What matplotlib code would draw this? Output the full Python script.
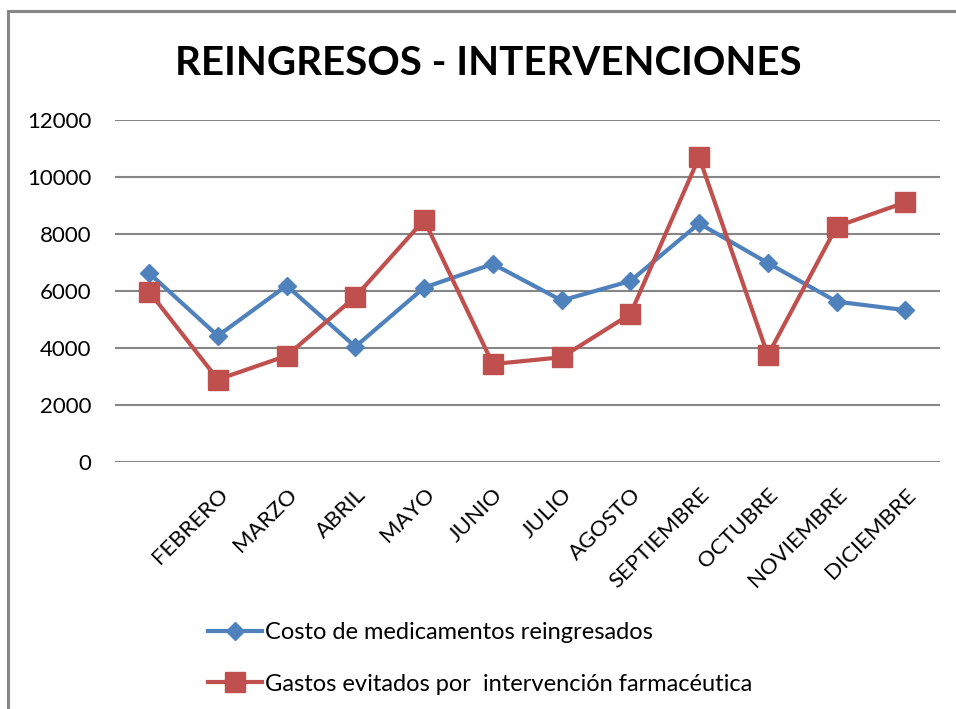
import matplotlib.pyplot as plt
from matplotlib.patches import Rectangle

months = ['', 'FEBRERO', 'MARZO', 'ABRIL', 'MAYO', 'JUNIO', 'JULIO',
          'AGOSTO', 'SEPTIEMBRE', 'OCTUBRE', 'NOVIEMBRE', 'DICIEMBRE']
costo = [6630, 4430, 6190, 4050, 6120, 6950, 5670, 6350, 8370, 6980, 5630, 5330]
gastos = [5980, 2900, 3730, 5800, 8490, 3440, 3680, 5190, 10690, 3750, 8260, 9110]
yticks = [0, 2000, 4000, 6000, 8000, 10000, 12000]

BLUE = '#4F81BD'
RED = '#C0504D'
GRID = '#868686'

plt.rcParams['font.family'] = ['Lato', 'DejaVu Sans']

fig = plt.figure(figsize=(9.56, 7.09), dpi=100)
# chart border (only top/left visible in the original crop)
fig.patches.append(Rectangle((8 / 956, -0.1), 1.2, 1 - 11 / 709 + 0.1,
                             transform=fig.transFigure, fill=False,
                             edgecolor=GRID, linewidth=2.2))

ax = fig.add_axes([0.120, 0.348, 0.863, 0.483])
x = list(range(len(months)))
ax.plot(x, costo, color=BLUE, linewidth=3, marker='D', markersize=9.5,
        markeredgecolor=BLUE, label='Costo de medicamentos reingresados')
ax.plot(x, gastos, color=RED, linewidth=3, marker='s', markersize=15,
        markeredgecolor=RED, label='Gastos evitados por  intervención farmacéutica')

ax.set_xlim(-0.5, len(months) - 0.5)
ax.set_ylim(0, 12000)
ax.set_yticks(yticks)
ax.set_yticklabels([str(v) for v in yticks], fontsize=16)
ax.set_xticks(x)
ax.set_xticklabels(months, rotation=45, ha='right', rotation_mode='anchor',
                   fontsize=16)
ax.tick_params(length=0)
ax.tick_params(axis='x', pad=16)
ax.tick_params(axis='y', pad=17)
ax.grid(axis='y', color=GRID, linewidth=1.5)
ax.set_axisbelow(True)
for s in ax.spines.values():
    s.set_visible(False)

fig.text(0.511, 0.910, 'REINGRESOS - INTERVENCIONES', ha='center', va='center',
         fontsize=29, fontweight='bold')

fig.legend(loc='upper left', bbox_to_anchor=(208 / 956, 1 - 622 / 709),
           frameon=False, fontsize=17, handlelength=2.3, handletextpad=0.1,
           labelspacing=1.3, borderaxespad=0, borderpad=0)

fig.savefig('out.png', dpi=100)
